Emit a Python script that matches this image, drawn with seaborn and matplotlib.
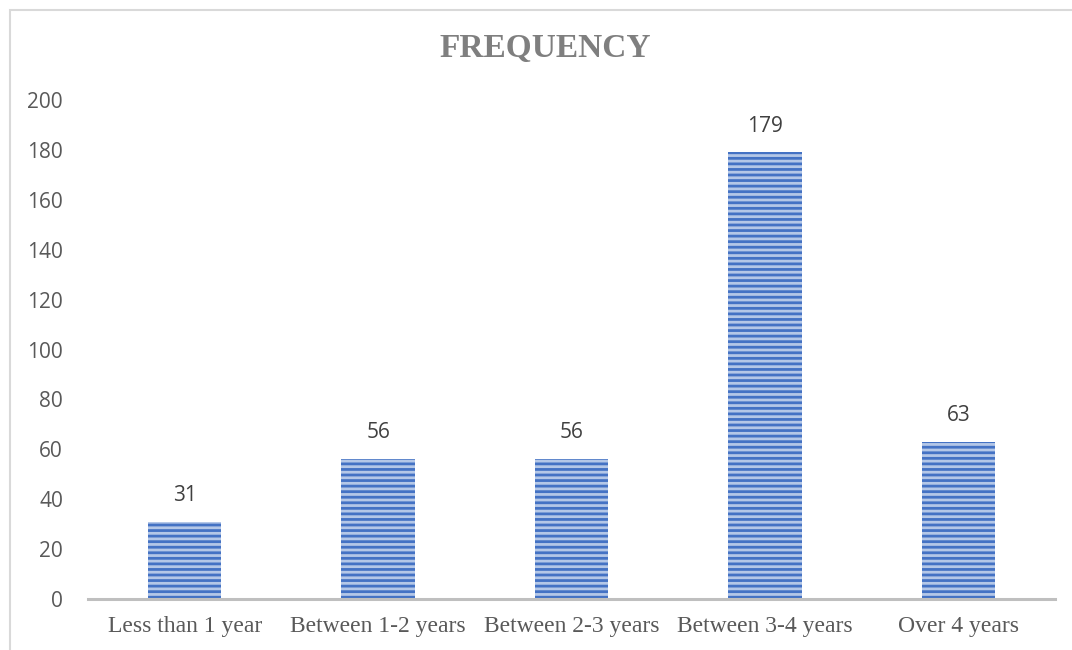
import matplotlib
matplotlib.use("Agg")
import matplotlib.pyplot as plt
import seaborn as sns
import pandas as pd
from matplotlib.patches import Rectangle

categories = ["Less than 1 year", "Between 1-2 years", "Between 2-3 years", "Between 3-4 years", "Over 4 years"]
values = [31, 56, 56, 179, 63]
yticks = [0, 20, 40, 60, 80, 100, 120, 140, 160, 180, 200]
title = "FREQUENCY"

df = pd.DataFrame({"category": categories, "value": values})

sns.set_theme(style="white")
plt.rcParams["hatch.linewidth"] = 2.0

fig = plt.figure(figsize=(10.72, 6.5), dpi=100)
fig.patches.append(Rectangle((10 / 1072, -0.1), 1.2, (650 - 10) / 650 + 0.1,
                             transform=fig.transFigure, fill=False,
                             edgecolor="#d9d9d9", linewidth=1.5, zorder=0))
ax = fig.add_axes([88 / 1072, 51 / 650, (1055 - 88) / 1072, (599 - 100) / 650])

sns.barplot(data=df, x="category", y="value", ax=ax, width=0.38,
            color="#b4c7e7", saturation=1, linewidth=0, edgecolor="#4472c4")
for p in ax.patches:
    p.set_hatch("---")
    p.set_edgecolor("#4472c4")
    p.set_linewidth(0)

for i, v in enumerate(values):
    ax.annotate(str(v), (i, v), xytext=(0, 19), textcoords="offset points",
                ha="center", va="center", fontsize=15, color="#404040",
                family="Open Sans")

ax.set_ylim(0, 200)
ax.set_xlim(-0.5, len(categories) - 0.5)
ax.set_yticks(yticks)
ax.set_yticklabels([str(t) for t in yticks], family="Open Sans", fontsize=15, color="#595959")
ax.set_xticks(range(len(categories)))
ax.set_xticklabels(categories, family="Liberation Serif", fontsize=17, color="#595959")
ax.tick_params(axis="y", length=0, pad=18)
ax.tick_params(axis="x", length=0, pad=12)
ax.set_xlabel("")
ax.set_ylabel("")
for s in ["top", "right", "left"]:
    ax.spines[s].set_visible(False)
ax.spines["bottom"].set_color("#bfbfbf")
ax.spines["bottom"].set_linewidth(2.2)
ax.grid(False)

fig.text(545 / 1072, 1 - 48 / 650, title,
         ha="center", va="center", family="Liberation Serif", fontweight="bold",
         fontsize=24, color="#7f7f7f")

fig.savefig("out.png", dpi=100)
